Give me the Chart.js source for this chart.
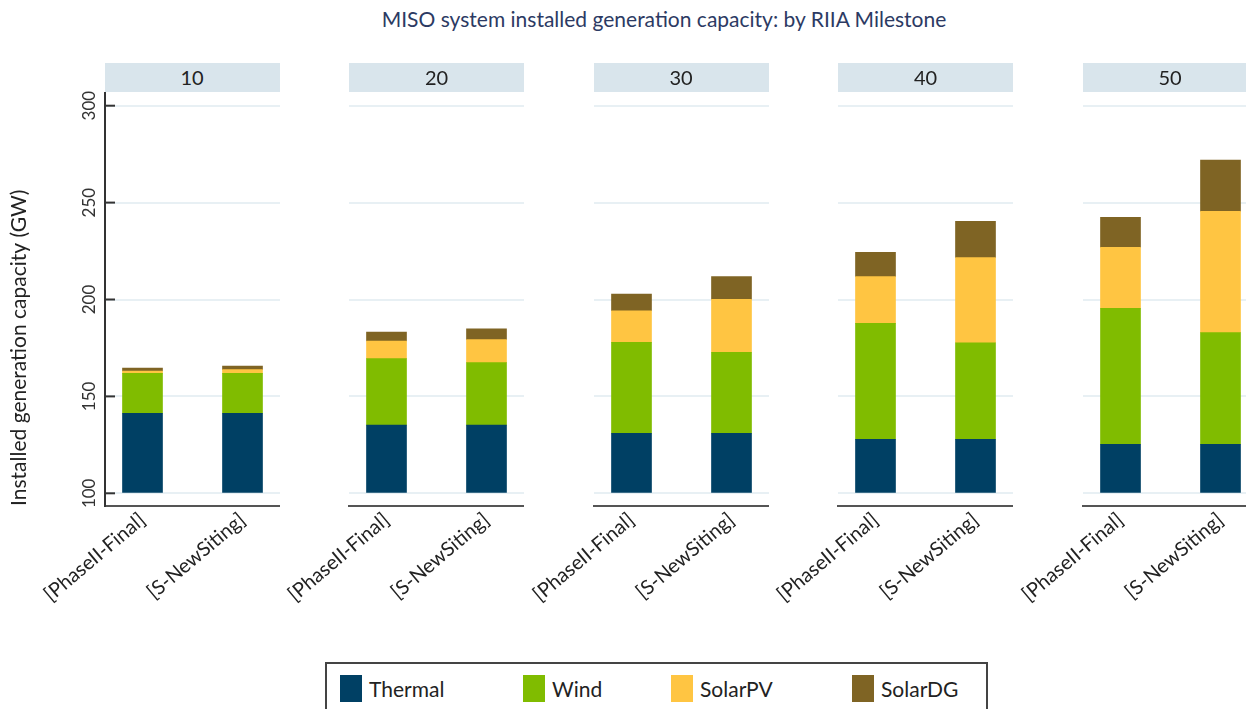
<!DOCTYPE html>
<html>
<head>
<meta charset="utf-8">
<script src="https://cdn.jsdelivr.net/npm/chart.js@4.4.1/dist/chart.umd.min.js"></script>
<style>
  body { margin: 0; width: 1246px; height: 709px; overflow: hidden; background: #fff; font-family: Lato, sans-serif; position: relative; }
  .title { position: absolute; left: 0; top: 6px; width: 1328px; text-align: center; font-size: 21px; color: #2c3a63; }
  .strip { position: absolute; top: 63px; width: 175px; height: 29px; line-height: 29px; background: #d9e5ec; text-align: center; font-size: 20px; color: #222; }
  .panel { position: absolute; top: 0; width: 280px; height: 640px; }
  .legend { position: absolute; left: 325px; top: 662px; width: 663px; height: 60px; border: 2px solid #444; box-sizing: border-box; }
  .item { position: absolute; top: 11px; font-size: 21px; color: #222; line-height: 27px; }
  .item span { display: inline-block; width: 22px; height: 27px; vertical-align: top; margin-right: 7px; }
</style>
</head>
<body>
<div class="title">MISO system installed generation capacity: by RIIA Milestone</div>
<div id="wrap"></div>
<div class="legend" id="legend"></div>
<script>
// milestones (panels) and scenarios (bars in each panel)
var milestones = ['10', '20', '30', '40', '50'];
var scenarios = ['[PhaseII-Final]', '[S-NewSiting]'];

// GW per technology, one pair per milestone: [PhaseII-Final, S-NewSiting]
var thermal = [[141.3, 141.3], [135.2, 135.2], [131.0, 131.0], [127.9, 127.9], [125.3, 125.3]];
var wind    = [[20.6, 20.6], [34.3, 32.2], [46.9, 41.8], [59.8, 49.8], [70.2, 57.6]];
var solarPV = [[1.2, 1.9], [9.1, 11.9], [16.3, 27.3], [24.1, 43.9], [31.4, 62.6]];
var solarDG = [[1.5, 1.9], [4.6, 5.6], [8.6, 11.7], [12.5, 18.7], [15.5, 26.5]];

var techNames = ['Thermal', 'Wind', 'SolarPV', 'SolarDG'];
var techColors = ['#004064', '#80bc00', '#ffc542', '#7f6424'];
var yTicks = [100, 150, 200, 250, 300];

Chart.defaults.font.family = 'Lato';

var series = [thermal, wind, solarPV, solarDG];
var wrap = document.getElementById('wrap');

// inward tick marks on the left axis
var innerTicks = {
    id: 'innerTicks',
    afterDraw: function(chart) {
        var ctx = chart.ctx, y = chart.scales.y, left = chart.chartArea.left;
        ctx.save();
        ctx.strokeStyle = '#333';
        ctx.lineWidth = 2;
        yTicks.forEach(function(v) {
            var py = y.getPixelForValue(v);
            ctx.beginPath();
            ctx.moveTo(left, py);
            ctx.lineTo(left + 10, py);
            ctx.stroke();
        });
        ctx.restore();
    }
};

milestones.forEach(function(m, i) {
    var panelLeft = 104.5 + 244.5 * i;

    var strip = document.createElement('div');
    strip.className = 'strip';
    strip.style.left = panelLeft + 'px';
    strip.textContent = m;
    document.body.appendChild(strip);

    var box = document.createElement('div');
    box.className = 'panel';
    box.style.left = (panelLeft - 105) + 'px';
    var canvas = document.createElement('canvas');
    canvas.width = 280;
    canvas.height = 640;
    box.appendChild(canvas);
    wrap.appendChild(box);

    var first = i === 0;
    var datasets = series.map(function(s, k) {
        var ds = {
            label: techNames[k],
            backgroundColor: techColors[k],
            data: s[i].map(function(v, j) { return {x: j, y: v}; }),
            barThickness: 40
        };
        if (k === 0) ds.base = 100;
        return ds;
    });

    new Chart(canvas, {
        type: 'bar',
        data: { datasets: datasets },
        plugins: first ? [innerTicks] : [],
        options: {
            responsive: false,
            animation: false,
            layout: { padding: { top: 93, left: 0, right: 0, bottom: 0 } },
            plugins: { legend: { display: false }, tooltip: { enabled: false } },
            scales: {
                x: {
                    type: 'linear',
                    stacked: true,
                    offset: false,
                    min: -0.375,
                    max: 1.375,
                    afterBuildTicks: function(scale) {
                        scale.ticks = scenarios.map(function(s, j) { return {value: j}; });
                    },
                    afterFit: function(scale) {
                        scale.height = 134;
                        scale.paddingLeft = 0;
                        scale.paddingRight = 0;
                    },
                    grid: { display: false, drawTicks: false },
                    border: { display: true, color: '#555', width: 2 },
                    ticks: {
                        minRotation: 40,
                        maxRotation: 40,
                        padding: 2,
                        color: '#222',
                        font: { size: 20 },
                        callback: function(v) { return scenarios[v]; }
                    }
                },
                y: {
                    stacked: true,
                    min: 93.45,
                    max: 306.55,
                    afterBuildTicks: function(scale) {
                        scale.ticks = yTicks.map(function(v) { return {value: v}; });
                    },
                    afterFit: function(scale) {
                        scale.width = 105;
                        scale.paddingTop = 0;
                        scale.paddingBottom = 0;
                    },
                    grid: { color: '#e8f0f4', lineWidth: 2, drawTicks: false },
                    border: { display: first, color: '#333', width: 2 },
                    title: {
                        display: first,
                        text: 'Installed generation capacity (GW)',
                        align: 'start',
                        color: '#222',
                        font: { size: 21 },
                        padding: { top: 7, bottom: 0 }
                    },
                    ticks: {
                        display: first,
                        minRotation: 90,
                        maxRotation: 90,
                        crossAlign: 'center',
                        padding: 1,
                        color: '#333',
                        font: { size: 17 }
                    }
                }
            }
        }
    });
});

// legend built from the same names and colours
var legend = document.getElementById('legend');
var itemLeft = [13, 196, 344, 525];
techNames.forEach(function(name, k) {
    var it = document.createElement('div');
    it.className = 'item';
    it.style.left = itemLeft[k] + 'px';
    it.innerHTML = '<span style="background:' + techColors[k] + '"></span>' + name;
    legend.appendChild(it);
});
</script>
</body>
</html>
